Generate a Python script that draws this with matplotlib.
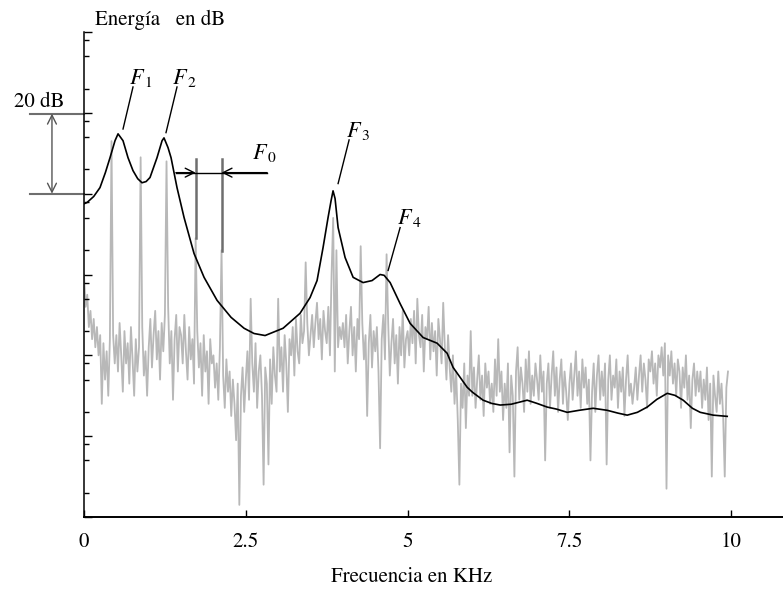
"""
Speech spectrum (gray) with its LPC envelope (black): formants F1-F4, F0 spacing, 20 dB scale bar.
"""
import numpy as np
import matplotlib
matplotlib.use('Agg')
import matplotlib.pyplot as plt

plt.rcParams.update({
    'font.family': 'serif',
    'font.serif': ['STIXGeneral', 'Liberation Serif', 'DejaVu Serif'],
    'mathtext.fontset': 'stix',
})

# --- data ---
DF_KHZ = 0.025          # bin spacing of the gray spectrum

GRAY_DB = [
    60, 52, 55, 47, 51, 44, 49, 42, 47, 40, 45, 28, 43, 34, 41, 30, 44, 93, 45, 38,   # 0.0
    45, 36, 48, 40, 31, 46, 38, 43, 33, 47, 39, 30, 44, 36, 42, 89, 47, 35, 41, 30,   # 0.5
    42, 49, 37, 45, 51, 39, 46, 34, 48, 41, 50, 88, 52, 38, 46, 29, 44, 50, 36, 47,   # 1.0
    45, 38, 50, 41, 34, 47, 39, 44, 33, 69, 46, 37, 43, 30, 45, 36, 41, 28, 44, 38,   # 1.5
    40, 32, 38, 29, 42, 66, 35, 27, 39, 31, 36, 25, 34, 28, 19, 33, 3, 30, 37, 26,    # 2.0
    34, 41, 29, 54, 38, 31, 43, 27, 36, 40, 30, 8, 37, 33, 13, 39, 28, 42, 35, 31,    # 2.5
    54, 36, 42, 31, 45, 38, 26, 44, 40, 47, 35, 49, 41, 38, 50, 43, 46, 63, 48, 40,   # 3.0
    45, 50, 42, 48, 53, 44, 49, 39, 51, 46, 43, 52, 40, 60, 74, 36, 66, 42, 47, 44,   # 3.5
    48, 42, 50, 38, 46, 52, 40, 47, 36, 49, 44, 67, 48, 39, 45, 25, 43, 50, 37, 46,   # 4.0
    41, 47, 36, 17, 44, 50, 39, 65, 48, 35, 43, 49, 38, 45, 33, 47, 40, 51, 37, 44,   # 4.5
    46, 40, 49, 43, 51, 38, 54, 45, 42, 50, 36, 47, 44, 52, 39, 48, 41, 46, 35, 49,   # 5.0
    44, 38, 53, 42, 34, 45, 37, 31, 40, 28, 36, 24, 8, 33, 27, 38, 22, 35, 30, 46,    # 5.5
    30, 37, 27, 34, 40, 29, 35, 25, 38, 32, 36, 28, 33, 26, 39, 30, 44, 31, 36, 24,   # 6.0
    33, 27, 38, 16, 35, 30, 10, 36, 42, 29, 37, 33, 26, 39, 31, 41, 28, 35, 30, 38,   # 6.5
    34, 29, 40, 31, 36, 14, 33, 38, 27, 35, 41, 30, 37, 26, 34, 39, 28, 36, 31, 24,   # 7.0
    33, 38, 29, 35, 41, 30, 36, 27, 39, 32, 37, 28, 34, 14, 31, 38, 26, 35, 40, 29,   # 7.5
    36, 30, 38, 13, 34, 40, 29, 35, 32, 39, 27, 36, 31, 37, 25, 34, 40, 30, 33, 28,   # 8.0
    32, 37, 29, 35, 40, 31, 38, 34, 27, 39, 36, 41, 33, 38, 30, 40, 37, 42, 35, 43,   # 8.5
    7, 40, 35, 41, 33, 38, 30, 39, 36, 27, 37, 32, 40, 29, 35, 22, 34, 38, 30, 36,    # 9.0
    31, 36, 27, 34, 29, 37, 24, 33, 10, 35, 30, 26, 36, 28, 33, 25, 10, 32, 36,       # 9.5
]

ENV_KHZ = [0.0, 0.046, 0.15, 0.247, 0.33, 0.402, 0.479, 0.526, 0.603, 0.680,
           0.757, 0.83, 0.896, 0.96, 1.020, 1.128, 1.206, 1.236, 1.298, 1.345,
           1.437, 1.546, 1.700, 1.855, 2.056, 2.272, 2.473, 2.627, 2.798, 3.076,
           3.338, 3.493, 3.601, 3.694, 3.771, 3.818, 3.848, 3.879, 3.926, 4.034,
           4.158, 4.312, 4.451, 4.575, 4.637, 4.730, 4.884, 5.039, 5.240, 5.456,
           5.611, 5.703, 5.920, 6.0, 6.167, 6.3, 6.430, 6.6, 6.847, 7.0,
           7.156, 7.3, 7.465, 7.65, 7.867, 8.083, 8.25, 8.393, 8.55, 8.702,
           8.85, 9.011, 9.13, 9.258, 9.4, 9.521, 9.722, 9.938]
ENV_DB = [77.5, 77.8, 79.3, 81.5, 85.2, 88.9, 93.1, 94.8, 93.1, 88.9,
          85.7, 83.7, 82.7, 83.0, 84.0, 88.9, 93.1, 93.8, 91.4, 88.9,
          81.5, 74.1, 65.2, 59.3, 53.6, 49.4, 46.7, 45.4, 44.9, 46.7,
          50.4, 54.3, 58.5, 66.7, 74.1, 78.3, 80.7, 78.8, 71.6, 64.2,
          59.3, 58.0, 58.5, 60.0, 59.8, 58.0, 52.8, 47.9, 44.4, 43.0,
          40.5, 37.0, 32.1, 30.9, 28.9, 28.1, 27.7, 27.9, 28.9, 28.1,
          27.2, 26.7, 25.9, 26.4, 26.9, 26.4, 25.7, 25.2, 25.9, 27.2,
          29.1, 30.6, 30.1, 28.9, 26.9, 25.9, 25.2, 24.9]

XTICKS = [0, 2.5, 5, 7.5, 10]
XTICK_LABELS = ['0', '2.5', '5', '7.5', '10']

# formant labels: (text, x, y baseline, leader from, leader to)
FORMANTS = [
    (r'$F_{\,1}$', 0.70, 107.2, (0.757, 106.4), (0.603, 96.0)),
    (r'$F_{\,2}$', 1.36, 107.2, (1.437, 106.4), (1.267, 95.1)),
    (r'$F_{\,3}$', 4.05, 94.1, (4.096, 93.3), (3.926, 82.5)),
    (r'$F_{\,4}$', 4.83, 72.6, (4.884, 71.6), (4.699, 61.0)),
]

# --- style ---
_FIGSIZE = (7.83, 5.91)
_DPI = 100
_GRAY = '#b8b8b8'
_MARK = '#6e6e6e'
_FS = 15
_FS_F = 16


def main():
    fig = plt.figure(figsize=_FIGSIZE, dpi=_DPI)
    ax = fig.add_axes([84 / 783, 74 / 591, 699 / 783, 485 / 591])

    gray = np.asarray(GRAY_DB, dtype=float)
    freq = np.arange(gray.size) * DF_KHZ
    ax.plot(freq, gray, '-', color=_GRAY, lw=1.3, zorder=1)
    ax.plot(ENV_KHZ, ENV_DB, '-', color='black', lw=1.2, zorder=3)

    ax.set_xlim(0, 10.80)
    ax.set_ylim(0, 120)
    for side in ('top', 'right'):
        ax.spines[side].set_visible(False)
    ax.spines['bottom'].set_linewidth(1.4)
    ax.spines['left'].set_linewidth(1.1)

    ax.set_xticks(XTICKS)
    ax.set_xticklabels(XTICK_LABELS, fontsize=_FS)
    ax.set_yticks(np.arange(0, 121, 20))
    ax.set_yticklabels([])
    ax.set_yticks([b + d for b in range(0, 120, 20) for d in (6, 14, 18)], minor=True)
    ax.tick_params(axis='x', direction='in', length=5, width=1, pad=11)
    ax.tick_params(axis='y', which='major', direction='in', length=6, width=1)
    ax.tick_params(axis='y', which='minor', direction='in', length=3.5, width=1)

    # 20 dB scale bar (outside the axes)
    for yv in (80.0, 99.8):
        ax.plot([-0.835, 0.0], [yv, yv], color=_MARK, lw=1.5, clip_on=False)
    ax.annotate('', xy=(-0.495, 99.8), xytext=(-0.495, 80.0), annotation_clip=False,
                arrowprops=dict(arrowstyle='<->', color='#555555', lw=1.0,
                                mutation_scale=16, shrinkA=0, shrinkB=0))
    ax.text(-0.70, 101.4, '20 dB', ha='center', va='baseline', fontsize=_FS,
            clip_on=False)

    # F0 spacing between two harmonics
    h_a, h_b, y0 = 1.725, 2.125, 85.2
    ax.plot([h_a, h_a], [88.6, 69.1], color=_MARK, lw=1.8, zorder=2)
    ax.plot([h_b, h_b], [88.6, 65.9], color=_MARK, lw=1.8, zorder=2)
    ax.plot([1.42, 2.83], [y0, y0], color='black', lw=1.0, zorder=4)
    for tip, tail in ((h_a, 1.42), (h_b, 2.83)):
        ax.annotate('', xy=(tip, y0), xytext=(tail, y0),
                    arrowprops=dict(arrowstyle='->', color='black', lw=1.0,
                                    mutation_scale=16, shrinkA=0, shrinkB=0))
    ax.text(2.60, 88.6, r'$F_{\,0}$', ha='left', va='baseline', fontsize=_FS_F)

    for label, tx, ty, p0, p1 in FORMANTS:
        ax.text(tx, ty, label, ha='left', va='baseline', fontsize=_FS_F, zorder=5)
        ax.plot([p0[0], p1[0]], [p0[1], p1[1]], color='black', lw=1.0)

    fig.text(95 / 783, 1 - 25 / 591, 'Energía   en dB', ha='left', va='baseline',
             fontsize=_FS)
    fig.text(412 / 783, 1 - 577 / 591, 'Frecuencia en KHz', ha='center', va='center',
             fontsize=_FS)

    fig.savefig('out.png', dpi=_DPI)
    plt.close(fig)


if __name__ == '__main__':
    main()
